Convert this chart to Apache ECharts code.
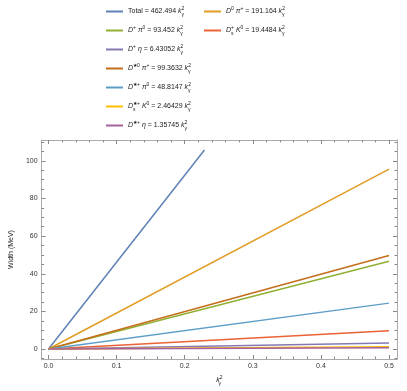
<!DOCTYPE html>
<html>
<head>
<meta charset="utf-8">
<script src="https://cdn.jsdelivr.net/npm/echarts@6/dist/echarts.min.js"></script>
<style>
  html, body { margin: 0; padding: 0; background: #fff; }
  #chart { width: 407px; height: 391px; }
</style>
</head>
<body>
<div id="chart"></div>
<script>
// channel keys, colours (Mathematica default palette)
const names = ['Total', 'D0pi+', 'D+pi0', 'Ds+K0', 'D+eta', 'D*0pi+', 'D*+pi0', 'D*s+K0', 'D*+eta'];
const colors = ['#5e81b5', '#e19c24', '#8fb032', '#eb6235', '#8778b3', '#c56e1a', '#5d9ec7', '#ffbf00', '#a5609d'];
// end points of each straight line (start is the origin)
const xEnd = [0.229, 0.5, 0.5, 0.5, 0.5, 0.5, 0.5, 0.5, 0.5];
const yEnd = [105.8, 95.6, 46.7, 9.7, 3.2, 49.7, 24.4, 1.2, 0.7];

const K = '{i|k}{sub0|γ}{sup|2}';
const labels = {
  'Total':   'Total = 462.494 ' + K,
  'D0pi+':   '{i|D}{sup|0} {i|π}{sup|+} = 191.164 ' + K,
  'D+pi0':   '{i|D}{sup|+} {i|π}{sup|0} = 93.452 ' + K,
  'Ds+K0':   '{i|D}{sub0|s}{sup|+} {i|K}{sup|0} = 19.4484 ' + K,
  'D+eta':   '{i|D}{sup|+} {i|η} = 6.43052 ' + K,
  'D*0pi+':  '{i|D}{sup|★0} {i|π}{sup|+} = 99.3632 ' + K,
  'D*+pi0':  '{i|D}{sup|★+} {i|π}{sup|0} = 48.8147 ' + K,
  'D*s+K0':  '{i|D}{sub0|s}{sup|★+} {i|K}{sup|0} = 2.46429 ' + K,
  'D*+eta':  '{i|D}{sup|★+} {i|η} = 1.35745 ' + K
};
const col1 = ['Total', 'D+pi0', 'D+eta', 'D*0pi+', 'D*+pi0', 'D*s+K0', 'D*+eta'];
const col2 = ['D0pi+', 'Ds+K0'];

const xMajor = [0, 0.1, 0.2, 0.3, 0.4, 0.5];
const xMinor = [0.02, 0.04, 0.06, 0.08, 0.12, 0.14, 0.16, 0.18, 0.22, 0.24, 0.26, 0.28,
                0.32, 0.34, 0.36, 0.38, 0.42, 0.44, 0.46, 0.48];
const yMajor = [0, 20, 40, 60, 80, 100];
const yMinor = [-5, 5, 10, 15, 25, 30, 35, 45, 50, 55, 65, 70, 75, 85, 90, 95, 105, 110];

const FONT = 'Liberation Sans';
const rich = {
  i:    { fontFamily: FONT, fontSize: 7, fontStyle: 'italic', lineHeight: 11, color: '#222' },
  sup:  { fontFamily: FONT, fontSize: 5, verticalAlign: 'top', lineHeight: 7, color: '#222' },
  sub0: { fontFamily: FONT, fontSize: 5, verticalAlign: 'bottom', lineHeight: 7, width: 0.01, color: '#222' }
};

const frameColor = '#aaaaaa';
const tickColor = '#888888';

function xAx(pos, ticks, len, main) {
  return {
    type: 'value', position: pos, min: -0.0102, max: 0.5117,
    splitLine: { show: false },
    axisLine: { show: main || pos === 'top', onZero: false, lineStyle: { color: frameColor, width: 1 } },
    axisTick: { show: true, inside: true, length: len, customValues: ticks, lineStyle: { color: tickColor } },
    axisLabel: main ? {
      customValues: xMajor, margin: 4, fontSize: 7, fontFamily: FONT, color: '#333',
      formatter: v => v.toFixed(1)
    } : { show: false },
    name: main ? '{i|k}{sub0|γ}{sup|2}' : '',
    nameLocation: 'middle', nameGap: 16,
    nameTextStyle: { fontFamily: FONT, fontSize: 7, color: '#222', rich: rich }
  };
}
function yAx(pos, ticks, len, main) {
  return {
    type: 'value', position: pos, min: -5.3, max: 111.1,
    splitLine: { show: false },
    axisLine: { show: main || pos === 'right', onZero: false, lineStyle: { color: frameColor, width: 1 } },
    axisTick: { show: true, inside: true, length: len, customValues: ticks, lineStyle: { color: tickColor } },
    axisLabel: main ? {
      customValues: yMajor, margin: 4, fontSize: 7, fontFamily: FONT, color: '#333'
    } : { show: false },
    name: main ? 'Width (MeV)' : '',
    nameLocation: 'middle', nameGap: 19, nameRotate: 90,
    nameTextStyle: { fontFamily: FONT, fontSize: 7, color: '#222' }
  };
}

function legendOf(list, left) {
  return {
    data: list, orient: 'vertical', left: left, top: 6, padding: 0,
    itemWidth: 17, itemHeight: 2, itemGap: 8, icon: 'rect', selectedMode: false,
    formatter: n => labels[n],
    textStyle: { fontFamily: FONT, fontSize: 7, lineHeight: 11, color: '#222', rich: rich }
  };
}

const chart = echarts.init(document.getElementById('chart'), null, { renderer: 'canvas' });
chart.setOption({
  animation: false,
  backgroundColor: '#fff',
  grid: { left: 39, right: 10, top: 140, bottom: 31 },
  legend: [legendOf(col1, 106), legendOf(col2, 204)],
  xAxis: [
    xAx('bottom', xMajor, 4, true),
    xAx('top', xMajor, 4, false),
    xAx('bottom', xMinor, 2.5, false),
    xAx('top', xMinor, 2.5, false)
  ],
  yAxis: [
    yAx('left', yMajor, 4, true),
    yAx('right', yMajor, 4, false),
    yAx('left', yMinor, 2.5, false),
    yAx('right', yMinor, 2.5, false)
  ],
  series: names.map((n, k) => ({
    name: n, type: 'line', xAxisIndex: 0, yAxisIndex: 0,
    showSymbol: false, silent: true,
    data: [[0, 0], [xEnd[k], yEnd[k]]],
    color: colors[k],
    lineStyle: { width: 1.5, color: colors[k] }
  }))
});
</script>
</body>
</html>
